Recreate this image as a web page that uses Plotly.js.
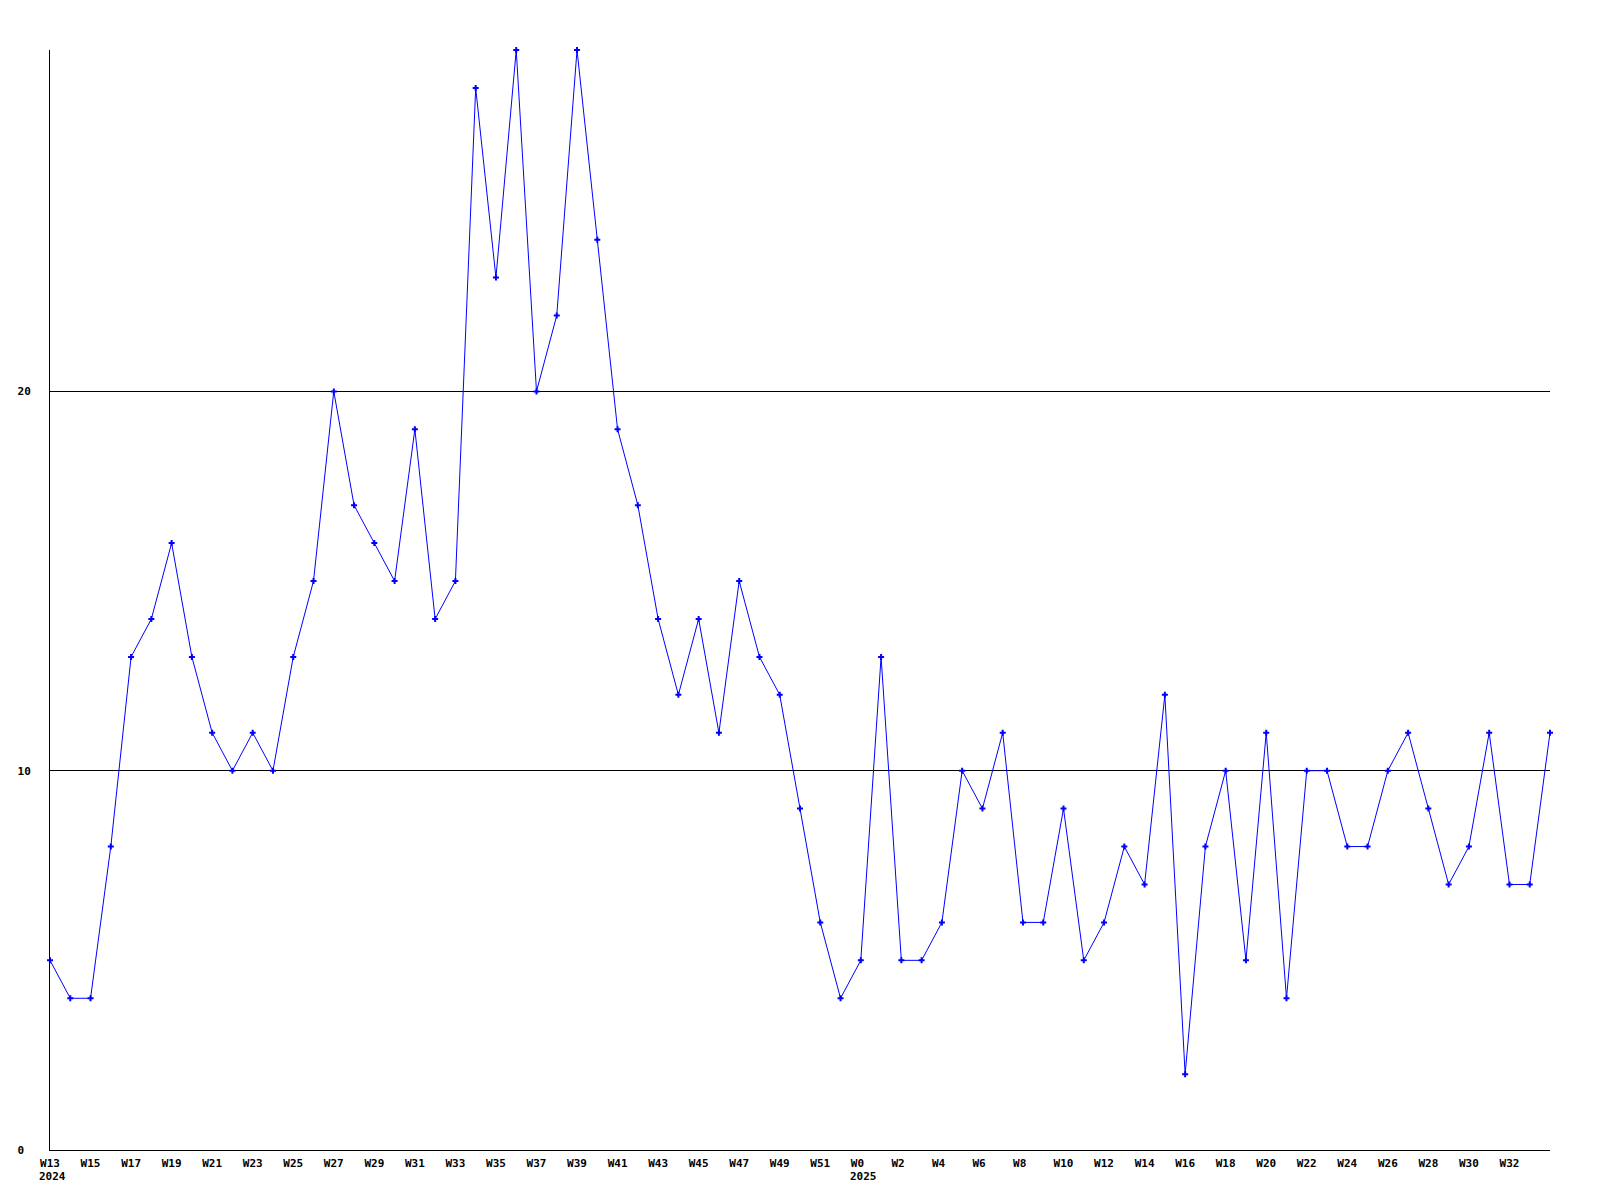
<!DOCTYPE html>
<html>
<head>
<meta charset="utf-8">
<script src="https://cdn.plot.ly/plotly-3.0.1.min.js"></script>
<style>html,body{margin:0;padding:0;background:#fff;}#chart{width:1600px;height:1200px;}</style>
</head>
<body>
<div id="chart"></div>
<script>
const weeks2024 = ["W13","W14","W15","W16","W17","W18","W19","W20","W21","W22","W23","W24","W25","W26","W27","W28","W29","W30","W31","W32","W33","W34","W35","W36","W37","W38","W39","W40","W41","W42","W43","W44","W45","W46","W47","W48","W49","W50","W51","W52"];
const weeks2025 = ["W0","W1","W2","W3","W4","W5","W6","W7","W8","W9","W10","W11","W12","W13","W14","W15","W16","W17","W18","W19","W20","W21","W22","W23","W24","W25","W26","W27","W28","W29","W30","W31","W32","W33","W34"];
const values2024 = [5,4,4,8,13,14,16,13,11,10,11,10,13,15,20,17,16,15,19,14,15,28,23,29,20,22,29,24,19,17,14,12,14,11,15,13,12,9,6,4];
const values2025 = [5,13,5,5,6,10,9,11,6,6,9,5,6,8,7,12,2,8,10,5,11,4,10,10,8,8,10,11,9,7,8,11,7,7,11];
const yTicks = [0,10,20];
const yearLabels = ["2024","2025"];

const labels = weeks2024.concat(weeks2025);
const values = values2024.concat(values2025);
const xs = labels.map((_, i) => i);
const tickvals = xs.filter(i => i % 2 === 0 && i < labels.length - 1);
// labels are left-aligned in the original: pad short labels so centring keeps the same left edge
const ticktext = tickvals.map(i => labels[i].length < 3 ? labels[i] + "\u00a0" : labels[i]);

const tfont = {family: "DejaVu Sans Mono", size: 11, color: "#000", weight: "bold"};

const trace = {
  x: xs, y: values, type: "scatter", mode: "lines+markers",
  line: {color: "#0000ff", width: 1},
  marker: {symbol: "cross", size: 5, color: "#0000ff"},
  cliponaxis: false, hoverinfo: "skip"
};

const layout = {
  width: 1600, height: 1200,
  margin: {l: 50, r: 50, t: 50, b: 50, pad: 0},
  paper_bgcolor: "#fff", plot_bgcolor: "#fff",
  showlegend: false,
  font: tfont,
  xaxis: {
    range: [0, labels.length - 1], tickmode: "array", tickvals: tickvals, ticktext: ticktext,
    showgrid: false, zeroline: false, showline: true, linecolor: "#000", linewidth: 1,
    ticks: "", ticklabelstandoff: 3, tickangle: 0, tickfont: tfont
  },
  yaxis: {
    range: [0, 29], tickmode: "array", tickvals: yTicks,
    ticktext: yTicks.map(v => String(v).length < 2 ? String(v) + "\u00a0" : String(v)),
    showgrid: true, gridcolor: "#000", gridwidth: 1, zeroline: false,
    showline: true, linecolor: "#000", linewidth: 1, ticks: "", ticklabelstandoff: 16,
    tickfont: tfont
  },
  annotations: [
    {x: 0, y: -0.0245, xref: "x", yref: "paper", text: yearLabels[0], showarrow: false, yanchor: "middle", xanchor: "left", xshift: -13, font: tfont},
    {x: weeks2024.length, y: -0.0245, xref: "x", yref: "paper", text: yearLabels[1], showarrow: false, yanchor: "middle", xanchor: "left", xshift: -13, font: tfont}
  ]
};

Plotly.newPlot("chart", [trace], layout, {staticPlot: true, displayModeBar: false});
</script>
</body>
</html>
